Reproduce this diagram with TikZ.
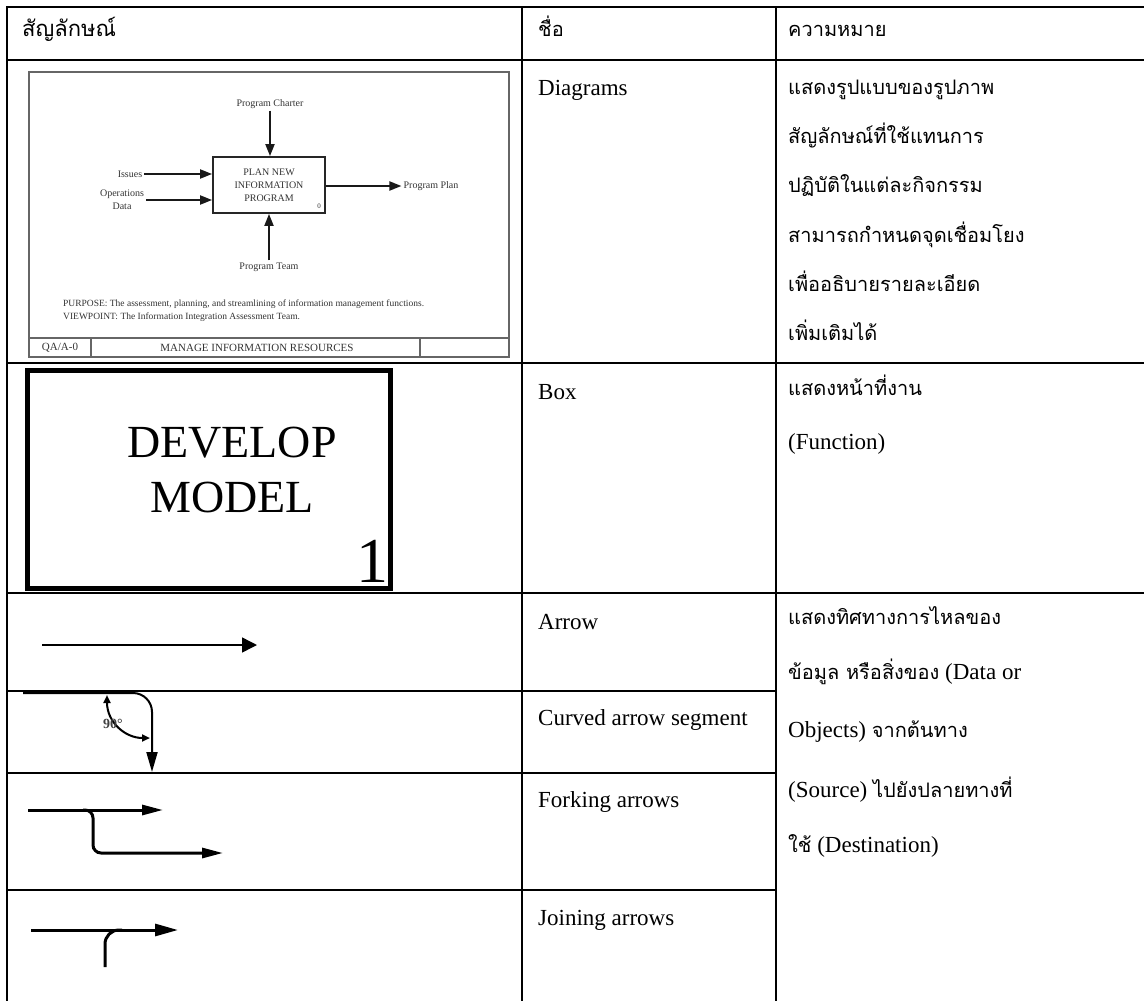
\documentclass[tikz,border=0pt]{standalone}
\usepackage{fontspec}
\setmainfont{Liberation Serif}
\newfontfamily\thaifont[Script=Thai]{Loma}
\usetikzlibrary{arrows.meta,positioning}
\newcommand{\thai}[1]{{\thaifont\fontsize{20}{24}\selectfont #1}}

\begin{document}
\begin{tikzpicture}[
    x=1pt, y=-1pt,
    >={Triangle[length=12pt,width=9pt]},
    grid/.style={line width=2.6pt},
    txt/.style={anchor=west,inner sep=0pt,text height=0.7em,text depth=0.2em,
      font=\fontsize{23}{26}\selectfont},
    idef/.style={inner sep=2pt,text=black!80,align=center,
      font=\fontsize{10}{13}\selectfont},
    frame/.style={draw=black!60,line width=1.5pt},
    flow/.style={line width=2pt,draw=black!90},
    sample/.style={line width=3pt},
  ]
  \useasboundingbox (0,0) rectangle (1144,1001);

  % table
  \draw[grid] (7,1001) -- (7,7) -- (1144,7);
  \draw[grid] (7,60) -- (1144,60) (7,363) -- (1144,363) (7,593) -- (1144,593);
  \draw[grid] (7,691) -- (776,691) (7,773) -- (776,773) (7,890) -- (776,890);
  \draw[grid] (522,7) -- (522,1001) (776,7) -- (776,1001);

  \node[txt] (h1) at (22,34) {\thai{\fontsize{22}{24}\selectfont สัญลักษณ์}};
  \node[txt] (h2) at (538,34) {\thai{ชื่อ}};
  \node[txt] (h3) at (788,34) {\thai{ความหมาย}};

  % IDEF0 sheet
  \draw[frame] (29,72) rectangle (509,357);
  \draw[frame] (29,338) -- (509,338) (91,338) -- (91,357) (420,338) -- (420,357);
  \node[draw=black!85,line width=1.8pt,minimum width=112pt,minimum height=56pt,idef]
    (plan) at (269,185) {PLAN NEW\\INFORMATION\\PROGRAM};
  \node[idef,font=\fontsize{7}{8}\selectfont] (zero) at (319,206) {0};
  \node[idef] (charter) at (270,104) {Program Charter};
  \node[idef] (issues) at (130,174) {Issues};
  \node[idef] (opdata) at (122,200) {Operations\\Data};
  \node[idef] (pplan) at (431,186) {Program Plan};
  \node[idef] (team) at (269,267) {Program Team};
  \draw[flow,->] (charter) -- (charter |- plan.north);
  \draw[flow,->] (issues) -- (issues -| plan.west);
  \draw[flow,->] (opdata) -- (opdata -| plan.west);
  \draw[flow,->] (plan.east |- pplan) -- (pplan);
  \draw[flow,->] (team) -- (team |- plan.south);
  \node[idef,anchor=west,align=left,font=\fontsize{9.5}{13}\selectfont] (purpose) at (61,311)
    {PURPOSE: The assessment, planning, and streamlining of information management functions.\\
     VIEWPOINT: The Information Integration Assessment Team.};
  \node[idef,font=\fontsize{11}{12}\selectfont] (qa) at (60,348) {QA/A-0};
  \node[idef,font=\fontsize{11}{12}\selectfont] (sheet) at (257,348) {MANAGE INFORMATION RESOURCES};

  % function box
  \node[draw,line width=5pt,minimum width=363pt,minimum height=218pt] (dev) at (209,479.5) {};
  \node[align=center,font=\fontsize{46}{55}\selectfont] (devtxt) at (232,470) {DEVELOP\\MODEL};
  \node[font=\fontsize{64}{64}\selectfont,inner sep=0pt] (devnum) at (372,561) {1};

  % arrow
  \coordinate (a1) at (42,645);
  \coordinate (a2) at (257,645);
  \draw[line width=1.5pt,-{Triangle[length=15pt,width=15pt]}] (a1) -- (a2);

  % curved arrow segment
  \coordinate (c1) at (23,693);
  \coordinate (c2) at (152,693);
  \coordinate (c3) at (152,772);
  \draw[line width=2pt,rounded corners=19pt,-{Triangle[length=20pt,width=11pt]}] (c1) -- (c2) -- (c3);
  \coordinate (g1) at (107,695);
  \coordinate (g2) at (150,738);
  \draw[line width=2pt,{Triangle[length=8pt,width=7pt]}-{Triangle[length=8pt,width=7pt]}]
    (g1) .. controls (107,722) and (125,738) .. (g2);
  \node[font=\bfseries\fontsize{14}{14}\selectfont,text=black!75,inner sep=0pt] (deg) at (113,724) {90°};

  % forking arrows
  \coordinate (f1) at (28,810);
  \coordinate (f2) at (163,810);
  \coordinate (f3) at (83,810);
  \coordinate (f4) at (93,853);
  \coordinate (f5) at (223,853);
  \draw[sample,-{Triangle[length=21pt,width=10pt]}] (f1) -- (f2);
  \draw[sample,rounded corners=8pt,-{Triangle[length=21pt,width=10pt]}] (f3) -| (f4) -- (f5);

  % joining arrows
  \coordinate (j1) at (31,930);
  \coordinate (j2) at (178,930);
  \coordinate (j3) at (105,967);
  \coordinate (j4) at (122,930);
  \draw[sample,-{Triangle[length=23pt,width=12pt]}] (j1) -- (j2);
  \draw[sample,rounded corners=14pt] (j3) |- (j4);

  % names
  \node[txt] (n1) at (538,93) {Diagrams};
  \node[txt] (n2) at (538,397) {Box};
  \node[txt] (n3) at (538,627) {Arrow};
  \node[txt] (n4) at (538,723) {Curved arrow segment};
  \node[txt] (n5) at (538,805) {Forking arrows};
  \node[txt] (n6) at (538,923) {Joining arrows};

  % meanings
  \node[txt] (m1) at (788,92) {\thai{แสดงรูปแบบของรูปภาพ}};
  \node[txt] (m2) at (788,141) {\thai{สัญลักษณ์ที่ใช้แทนการ}};
  \node[txt] (m3) at (788,190) {\thai{ปฏิบัติในแต่ละกิจกรรม}};
  \node[txt] (m4) at (788,240) {\thai{สามารถกำหนดจุดเชื่อมโยง}};
  \node[txt] (m5) at (788,289) {\thai{เพื่ออธิบายรายละเอียด}};
  \node[txt] (m6) at (788,338) {\thai{เพิ่มเติมได้}};
  \node[txt] (m7) at (788,393) {\thai{แสดงหน้าที่งาน}};
  \node[txt] (m8) at (788,447) {(Function)};
  \node[txt] (m9) at (788,622) {\thai{แสดงทิศทางการไหลของ}};
  \node[txt] (m10) at (788,677) {\thai{ข้อมูล หรือสิ่งของ} (Data or};
  \node[txt] (m11) at (788,735) {Objects) \thai{จากต้นทาง}};
  \node[txt] (m12) at (788,795) {(Source) \thai{ไปยังปลายทางที่}};
  \node[txt] (m13) at (788,850) {\thai{ใช้} (Destination)};
\end{tikzpicture}
\end{document}
